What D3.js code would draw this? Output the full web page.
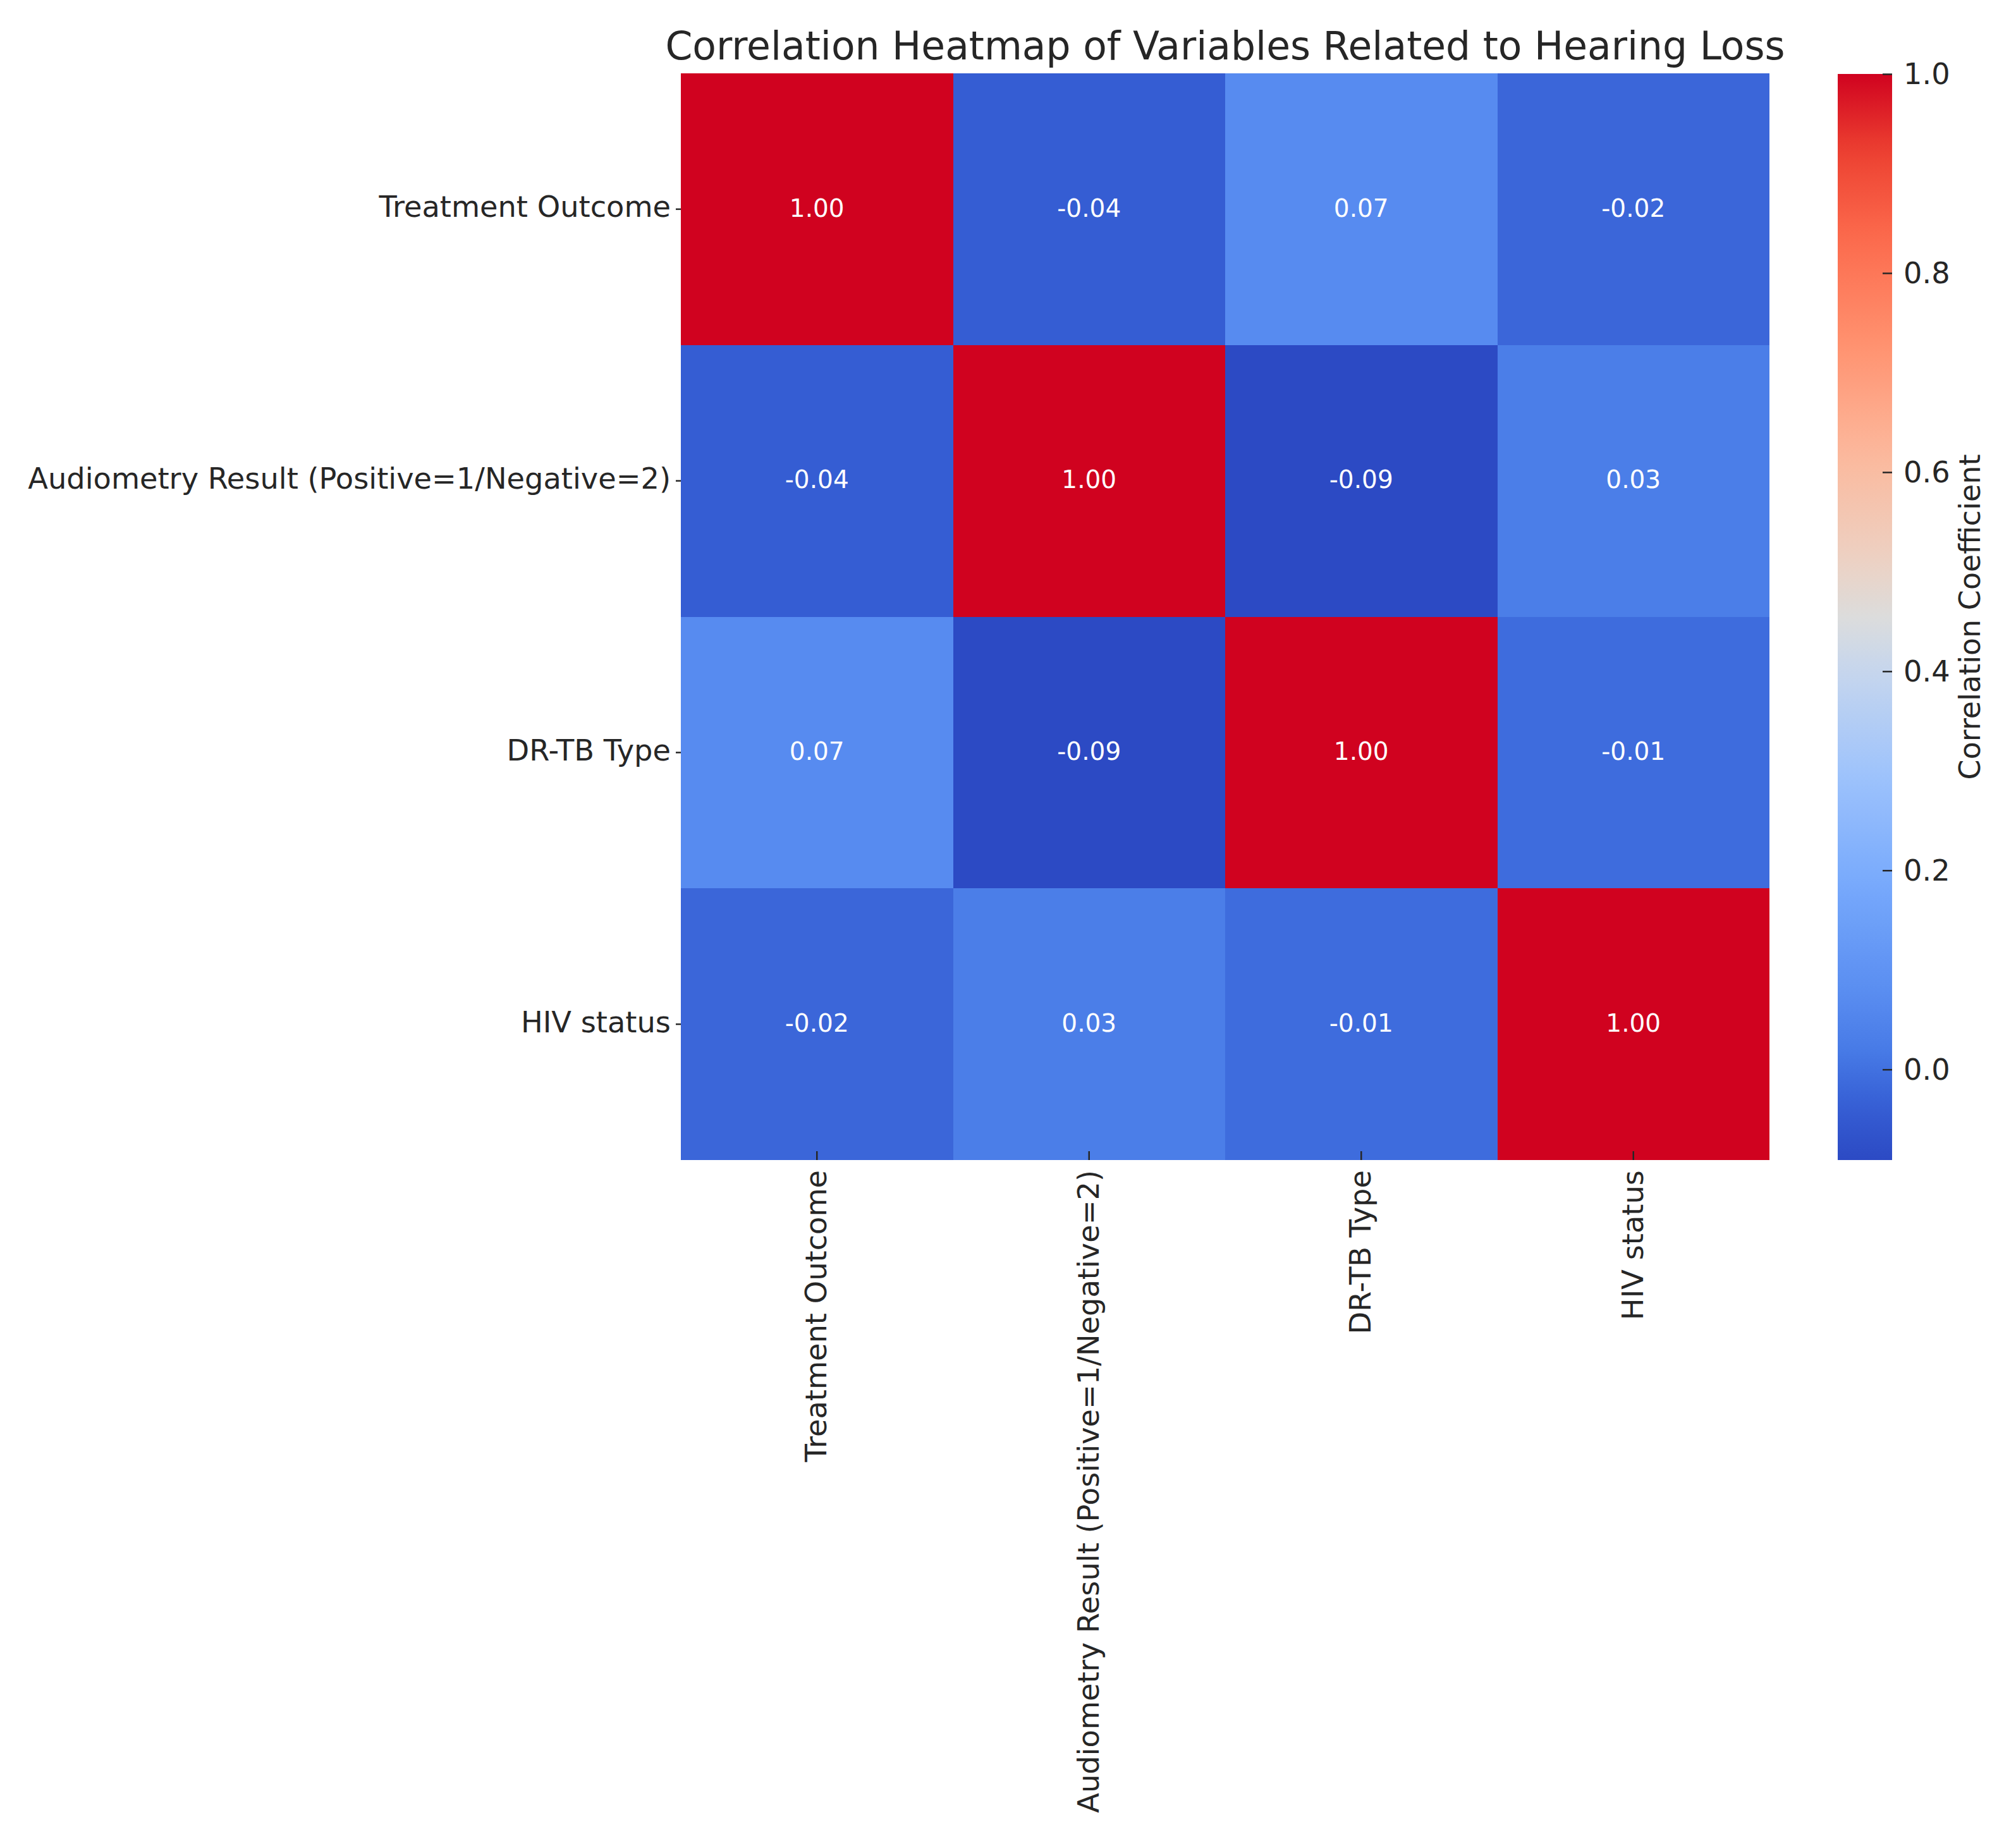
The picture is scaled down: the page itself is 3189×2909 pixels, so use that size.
<!DOCTYPE html>
<html>
<head>
<meta charset="utf-8">
<title>Correlation Heatmap</title>
<script src="https://cdn.jsdelivr.net/npm/d3@7"></script>
<style>
  body { margin: 0; background: #ffffff; }
  svg { display: block; }
  text { font-family: 'DejaVu Sans', sans-serif; fill: #262626; }
</style>
</head>
<body>
<script>

  // variables (rows and columns are the same)
  var variables = [
    "Treatment Outcome",
    "Audiometry Result (Positive=1/Negative=2)",
    "DR-TB Type",
    "HIV status"
  ];

  // correlation rows
  var rowTreatment  = [1.00, -0.04, 0.07, -0.02];
  var rowAudiometry = [-0.04, 1.00, -0.091, 0.03];
  var rowDrtb       = [0.07, -0.091, 1.00, -0.01];
  var rowHiv        = [-0.02, 0.03, -0.01, 1.00];

  var colorbarTicks = [0.0, 0.2, 0.4, 0.6, 0.8, 1.0];

  var matrix = [rowTreatment, rowAudiometry, rowDrtb, rowHiv];

  //flatten into cells
  var cells = [];
  matrix.forEach(function (row, i) {
    row.forEach(function (v, j) {
      cells.push({row: variables[i], col: variables[j], value: v});
    });
  });

  var W = 3189, H = 2909;
  var mapLeft = 1077, mapTop = 116, mapRight = 2799, mapBottom = 1835;

  var svg = d3.select("body").append("svg")
      .attr("width", W)
      .attr("height", H);

  svg.append("rect").attr("width", W).attr("height", H).attr("fill", "#ffffff");

  var x = d3.scaleBand().domain(variables).range([mapLeft, mapRight]);
  var y = d3.scaleBand().domain(variables).range([mapTop, mapBottom]);

  //coolwarm-like map, colours as they appear in the picture
  var extent = d3.extent(cells, function (d) { return d.value; });
  var tStops = [0, 0.05, 0.1, 0.15, 0.25, 0.35, 0.45, 0.5, 0.55, 0.65, 0.75, 0.85, 0.93, 1];
  var cStops = ["#2c4ac4", "#365ed4", "#477ae6", "#588cf0", "#76a8fc", "#9cc2fc", "#c6d6ee",
                "#dcdcdc", "#ecd2c4", "#fcb89c", "#ff9270", "#fc6a4c", "#ec4030", "#d0021f"];
  var norm = d3.scaleLinear().domain(extent).range([0, 1]);
  var cmap = d3.scaleLinear().domain(tStops).range(cStops).interpolate(d3.interpolateRgb).clamp(true);
  var color = function (v) { return cmap(norm(v)); };

  //cells
  svg.append("g").selectAll("rect")
      .data(cells)
      .enter()
        .append("rect")
        .attr("x", function (d) { return x(d.col); })
        .attr("y", function (d) { return y(d.row); })
        .attr("width", x.bandwidth())
        .attr("height", y.bandwidth())
        .attr("fill", function (d) { return color(d.value); })
        .attr("shape-rendering", "crispEdges");

  //annotations
  svg.append("g").selectAll("text")
      .data(cells)
      .enter()
        .append("text")
        .attr("x", function (d) { return x(d.col) + x.bandwidth() / 2; })
        .attr("y", function (d) { return y(d.row) + y.bandwidth() / 2; })
        .attr("text-anchor", "middle")
        .attr("dy", "0.3em")
        .attr("font-size", 39)
        .style("fill", "#ffffff")
        .text(function (d) { return d.value.toFixed(2); });

  //y axis
  var yAxis = svg.append("g")
      .attr("transform", "translate(" + mapLeft + ",0)")
      .call(d3.axisLeft(y).tickSize(8).tickPadding(8));
  yAxis.select(".domain").remove();
  yAxis.selectAll("line").attr("stroke", "#262626").attr("stroke-width", 2.5);
  yAxis.selectAll("text").attr("font-size", 46.3).attr("font-family", "DejaVu Sans").attr("dy", "0.27em");

  //x axis (ticks drawn upward, labels rotated)
  var xAxis = svg.append("g")
      .attr("transform", "translate(0," + mapBottom + ")")
      .call(d3.axisBottom(x).tickSizeInner(-14).tickSizeOuter(0).tickPadding(0));
  xAxis.select(".domain").remove();
  xAxis.selectAll("line").attr("stroke", "#262626").attr("stroke-width", 2.5);
  xAxis.selectAll("text")
      .attr("font-size", 46.3)
      .attr("font-family", "DejaVu Sans")
      .attr("text-anchor", "end")
      .attr("transform", "translate(0,16) rotate(-90)")
      .attr("x", 0)
      .attr("y", 0)
      .attr("dy", "0.32em");

  //colorbar
  var cbLeft = 2907, cbRight = 2993, cbTop = 117;
  var cbScale = d3.scaleLinear().domain(extent).range([mapBottom, cbTop]);

  var grad = svg.append("defs").append("linearGradient")
      .attr("id", "cbgrad")
      .attr("x1", 0).attr("y1", 1).attr("x2", 0).attr("y2", 0);
  d3.range(0, 1.0001, 0.02).forEach(function (t) {
    grad.append("stop")
      .attr("offset", t)
      .attr("stop-color", cmap(t));
  });

  svg.append("rect")
      .attr("x", cbLeft)
      .attr("y", cbTop)
      .attr("width", cbRight - cbLeft)
      .attr("height", mapBottom - cbTop)
      .attr("fill", "url(#cbgrad)");

  var cbAxis = svg.append("g")
      .attr("transform", "translate(" + cbRight + ",0)")
      .call(d3.axisRight(cbScale).tickValues(colorbarTicks).tickFormat(d3.format(".1f"))
            .tickSizeInner(-15).tickSizeOuter(0).tickPadding(18));
  cbAxis.select(".domain").remove();
  cbAxis.selectAll("line").attr("stroke", "#262626").attr("stroke-width", 2.5);
  cbAxis.selectAll("text").attr("font-size", 46.3).attr("font-family", "DejaVu Sans").attr("dy", "0.34em");

  svg.append("text")
      .attr("transform", "translate(3115," + (cbTop + mapBottom) / 2 + ") rotate(-90)")
      .attr("text-anchor", "middle")
      .attr("dy", "0.36em")
      .attr("font-size", 46)
      .text("Correlation Coefficient");

  //title
  svg.append("text")
      .attr("x", (mapLeft + mapRight) / 2)
      .attr("y", 94)
      .attr("text-anchor", "middle")
      .attr("font-size", 61.5)
      .text("Correlation Heatmap of Variables Related to Hearing Loss");

</script>
</body>
</html>
